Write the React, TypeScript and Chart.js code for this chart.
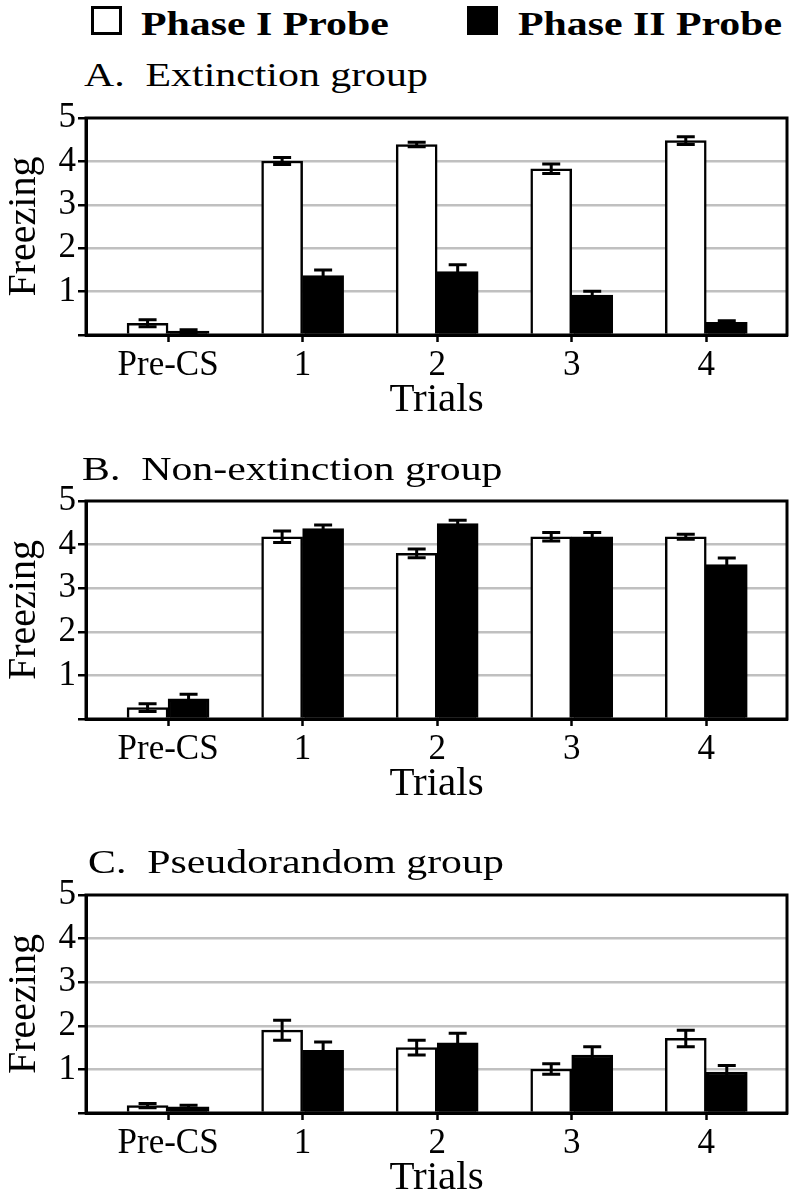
import React, { useEffect, useRef } from 'react';
import { Chart, registerables } from 'chart.js';

Chart.register(...registerables);

const FONT = "'Liberation Serif', 'Times New Roman', serif";

const categories = ['Pre-CS', '1', '2', '3', '4'];
const yTickValues = [0, 1, 2, 3, 4, 5];
const seriesNames = ['Phase I Probe', 'Phase II Probe'];
const panelTitles = ['A.  Extinction group', 'B.  Non-extinction group', 'C.  Pseudorandom group'];

// A. Extinction group
const extPhase1 = [0.27, 4.01, 4.39, 3.83, 4.48];
const extPhase1Err = [0.08, 0.08, 0.05, 0.11, 0.09];
const extPhase2 = [0.09, 1.37, 1.46, 0.92, 0.29];
const extPhase2Err = [0.03, 0.13, 0.16, 0.09, 0.04];

// B. Non-extinction group
const nonExtPhase1 = [0.26, 4.18, 3.8, 4.18, 4.18];
const nonExtPhase1Err = [0.09, 0.13, 0.1, 0.1, 0.06];
const nonExtPhase2 = [0.46, 4.37, 4.48, 4.18, 3.54];
const nonExtPhase2Err = [0.11, 0.08, 0.08, 0.1, 0.15];

// C. Pseudorandom group
const pseudoPhase1 = [0.17, 1.9, 1.5, 1.01, 1.71];
const pseudoPhase1Err = [0.05, 0.23, 0.17, 0.12, 0.19];
const pseudoPhase2 = [0.14, 1.44, 1.61, 1.33, 0.94];
const pseudoPhase2Err = [0.04, 0.19, 0.22, 0.19, 0.15];

const errorBarsFramePlugin = {
  id: 'errorBarsFrame',
  afterDatasetsDraw(chart: any) {
    const { ctx, chartArea: a, scales } = chart;
    const y = scales.y;
    ctx.save();
    ctx.strokeStyle = '#000';
    ctx.lineWidth = 3;
    chart.data.datasets.forEach((ds: any, di: number) => {
      const meta = chart.getDatasetMeta(di);
      meta.data.forEach((bar: any, i: number) => {
        const v = ds.data[i].y;
        const e = ds.errors[i];
        const top = y.getPixelForValue(v + e);
        const bot = y.getPixelForValue(Math.max(0, v - e));
        const hw = 9;
        ctx.beginPath();
        ctx.moveTo(bar.x, top);
        ctx.lineTo(bar.x, bot);
        ctx.moveTo(bar.x - hw, top);
        ctx.lineTo(bar.x + hw, top);
        ctx.moveTo(bar.x - hw, bot);
        ctx.lineTo(bar.x + hw, bot);
        ctx.stroke();
      });
    });
    ctx.lineWidth = 3;
    ctx.strokeRect(a.left, a.top, a.right - a.left, a.bottom - a.top);
    ctx.restore();
  },
};

type PanelProps = {
  top: number;
  height: number;
  padTop: number;
  p1: number[];
  e1: number[];
  p2: number[];
  e2: number[];
};

function Panel({ top, height, padTop, p1, e1, p2, e2 }: PanelProps) {
  const ref = useRef<HTMLCanvasElement | null>(null);
  useEffect(() => {
    if (!ref.current) return;
    const toPoints = (vals: number[]) => vals.map((v, i) => ({ x: i, y: v }));
    const chart = new Chart(ref.current, {
      type: 'bar',
      data: {
        datasets: [
          {
            label: seriesNames[0],
            data: toPoints(p1),
            backgroundColor: '#ffffff',
            borderColor: '#000000',
            borderWidth: 2.5,
            barThickness: 41,
            errors: e1,
          } as any,
          {
            label: seriesNames[1],
            data: toPoints(p2),
            backgroundColor: '#000000',
            borderColor: '#000000',
            borderWidth: 2.5,
            barThickness: 41,
            errors: e2,
          } as any,
        ],
      },
      options: {
        animation: false,
        responsive: false,
        maintainAspectRatio: false,
        layout: { padding: { left: 0, right: 10, top: padTop, bottom: 0 } },
        plugins: {
          legend: { display: false },
          tooltip: { enabled: false },
          title: { display: false },
        },
        scales: {
          x: {
            type: 'linear',
            min: -0.61,
            max: 4.6,
            offset: false,
            afterBuildTicks: (s: any) => {
              s.ticks = categories.map((_, i) => ({ value: i }));
            },
            afterFit: (s: any) => {
              s.height = 90;
            },
            ticks: {
              callback: (v: any) => categories[v] ?? '',
              font: { family: FONT, size: 35 },
              color: '#000',
              padding: 3,
              maxRotation: 0,
              autoSkip: false,
            },
            grid: {
              offset: false,
              drawOnChartArea: false,
              drawTicks: true,
              tickLength: 7,
              tickColor: '#000',
              tickWidth: 2.5,
            },
            border: { display: true, color: '#000', width: 3 },
            title: {
              display: true,
              text: 'Trials',
              font: { family: FONT, size: 41 },
              color: '#000',
              padding: 0,
            },
          },
          y: {
            min: 0,
            max: 5,
            afterBuildTicks: (s: any) => {
              s.ticks = yTickValues.map((v) => ({ value: v }));
            },
            afterFit: (s: any) => {
              s.width = 86;
            },
            ticks: {
              callback: (v: any) => (v === 0 ? '' : String(v)),
              font: { family: FONT, size: 35 },
              color: '#000',
              padding: 2,
              autoSkip: false,
            },
            grid: {
              color: (c: any) =>
                c.tick && (c.tick.value === 0 || c.tick.value === 5) ? 'rgba(0,0,0,0)' : '#c0c0c0',
              lineWidth: 2.5,
              tickColor: '#000',
              tickLength: 8,
              tickWidth: 2.5,
            },
            border: { color: '#000', width: 3 },
            title: {
              display: true,
              text: 'Freezing',
              font: { family: FONT, size: 40 },
              color: '#000',
              padding: 0,
            },
          },
        },
      } as any,
      plugins: [errorBarsFramePlugin],
    });
    return () => chart.destroy();
  }, []);
  return (
    <canvas
      ref={ref}
      width={797}
      height={height}
      style={{ position: 'absolute', left: 0, top, width: 797, height, display: 'block' }}
    />
  );
}

const STRETCH = 1.23;

const textStyle = (top: number, left: number, bold: boolean): React.CSSProperties => ({
  position: 'absolute',
  top,
  left,
  fontFamily: FONT,
  fontWeight: bold ? 'bold' : 'normal',
  fontSize: 34,
  lineHeight: '34px',
  whiteSpace: 'pre',
  color: '#000',
  transform: `scaleX(${STRETCH})`,
  transformOrigin: '0 0',
});

export default function App() {
  return (
    <div
      style={{
        position: 'absolute',
        left: 0,
        top: 0,
        width: 797,
        height: 1199,
        background: '#fff',
        overflow: 'hidden',
      }}
    >
      <Panel top={95} height={330} padTop={18} p1={extPhase1} e1={extPhase1Err} p2={extPhase2} e2={extPhase2Err} />
      <Panel top={478} height={331} padTop={18} p1={nonExtPhase1} e1={nonExtPhase1Err} p2={nonExtPhase2} e2={nonExtPhase2Err} />
      <Panel top={872} height={331} padTop={18} p1={pseudoPhase1} e1={pseudoPhase1Err} p2={pseudoPhase2} e2={pseudoPhase2Err} />

      <div style={{ position: 'absolute', left: 91, top: 6, width: 31, height: 29, border: '3px solid #000', boxSizing: 'border-box', background: '#fff' }} />
      <div style={textStyle(6.5, 141, true)}>{seriesNames[0]}</div>
      <div style={{ position: 'absolute', left: 467, top: 6, width: 31, height: 29, background: '#000' }} />
      <div style={textStyle(6.5, 518, true)}>{seriesNames[1]}</div>

      <div style={textStyle(57.5, 84, false)}>{panelTitles[0]}</div>
      <div style={textStyle(451.5, 82, false)}>{panelTitles[1]}</div>
      <div style={textStyle(844.5, 88, false)}>{panelTitles[2]}</div>
    </div>
  );
}
